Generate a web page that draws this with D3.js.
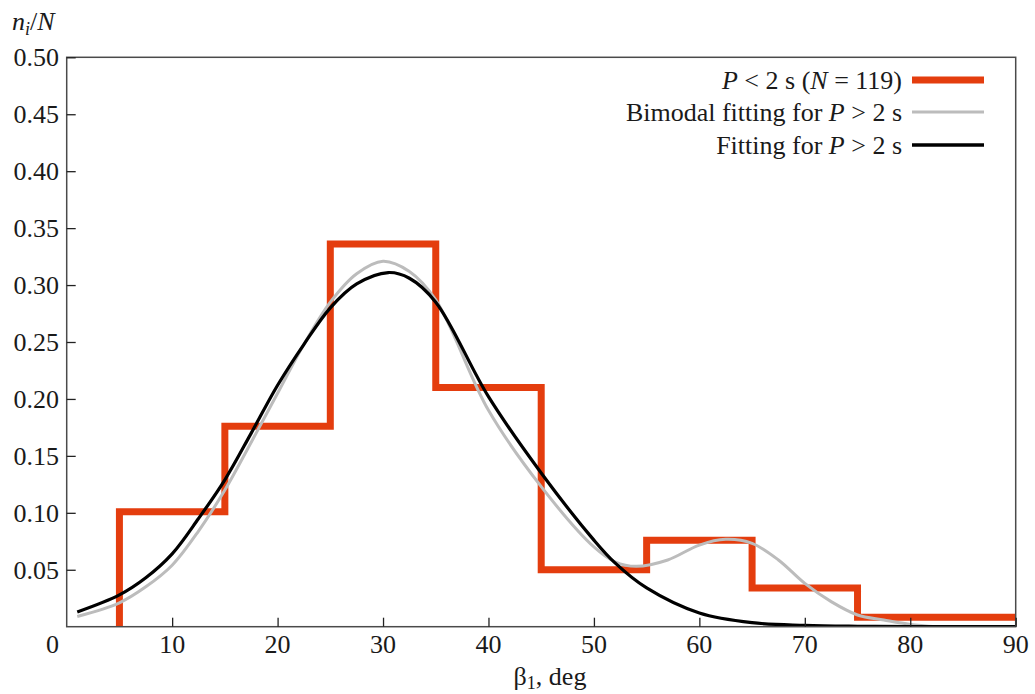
<!DOCTYPE html>
<html>
<head>
<meta charset="utf-8">
<script src="https://cdn.jsdelivr.net/npm/d3@7"></script>
<style>
  body { margin: 0; background: #fff; }
  svg text { font-family: "Liberation Serif", "DejaVu Serif", serif; font-size: 26px; fill: #1a1a1a; }
</style>
</head>
<body>
<svg width="1035" height="694"></svg>
<script>
// histogram P < 2 s
let binEdges = [5, 15, 25, 35, 45, 55, 65, 75, 90];
let histValues = [0.101, 0.176, 0.336, 0.210, 0.050, 0.076, 0.034, 0.0084];

// fitting for P > 2 s (black)
let fitX = [1, 5, 7.5, 10, 12.5, 15, 17.5, 20, 22.5, 25, 27.5, 30.5, 32.5, 35, 40, 45, 50, 52, 55, 60, 65, 70, 75, 80, 90];
let fitY = [0.013, 0.028, 0.043, 0.064, 0.095, 0.129, 0.170, 0.212, 0.248, 0.280, 0.301, 0.311, 0.306, 0.285, 0.202, 0.135, 0.076, 0.056, 0.034, 0.012, 0.0035, 0.0012, 0.0004, 0.0001, 0];

// bimodal fitting for P > 2 s (grey)
let biX = [1, 5, 7.5, 10, 12.5, 15, 17.5, 20, 22.5, 25, 27.5, 30, 32.5, 35, 40, 45, 50, 52, 54, 57, 60, 62.5, 65, 67.5, 70, 72.5, 75, 77.5, 80, 82.5];
let biY = [0.009, 0.021, 0.035, 0.054, 0.084, 0.120, 0.162, 0.205, 0.248, 0.285, 0.310, 0.321, 0.312, 0.287, 0.190, 0.123, 0.070, 0.057, 0.053, 0.0586, 0.0717, 0.0767, 0.0732, 0.0586, 0.038, 0.022, 0.0103, 0.0059, 0.002, 0];

let xTicks = [10, 20, 30, 40, 50, 60, 70, 80, 90];
let yTicks = [0.05, 0.10, 0.15, 0.20, 0.25, 0.30, 0.35, 0.40, 0.45, 0.50];

let s = d3.select("svg");
let pLeft = 66.7, pRight = 1015.7, pTop = 57.3, pBottom = 626.7;

let x = d3.scaleLinear().domain([0, 90]).range([pLeft, pRight]);
let y = d3.scaleLinear().domain([0, 0.5]).range([pBottom, pTop]);

s.append("clipPath").attr("id", "clip")
    .append("rect")
    .attr("x", pLeft).attr("y", pTop)
    .attr("width", pRight - pLeft).attr("height", pBottom - pTop);

// histogram as step line
let steps = [[binEdges[0], 0]];
for (let i = 0; i < histValues.length; i++) {
    steps.push([binEdges[i], histValues[i]]);
    steps.push([binEdges[i + 1], histValues[i]]);
}
let lineXY = d3.line().x(d => x(d[0])).y(d => y(d[1]));

let plot = s.append("g").attr("clip-path", "url(#clip)");

plot.append("path")
    .attr("d", lineXY(steps))
    .attr("fill", "none")
    .attr("stroke", "#e43d0e")
    .attr("stroke-width", 7)
    .attr("stroke-linejoin", "miter");

let smooth = d3.line().x(d => x(d[0])).y(d => y(d[1])).curve(d3.curveCatmullRom.alpha(0.5));

plot.append("path")
    .attr("d", smooth(d3.zip(biX, biY)))
    .attr("fill", "none")
    .attr("stroke", "#bcbcbc")
    .attr("stroke-width", 3);

plot.append("path")
    .attr("d", smooth(d3.zip(fitX, fitY)))
    .attr("fill", "none")
    .attr("stroke", "#000")
    .attr("stroke-width", 3.2);

// frame
s.append("rect")
    .attr("x", pLeft).attr("y", pTop)
    .attr("width", pRight - pLeft).attr("height", pBottom - pTop)
    .attr("fill", "none")
    .attr("stroke", "#4a4a4a")
    .attr("stroke-width", 1.5);

// inward ticks
let xAxis = d3.axisTop(x).tickValues(xTicks).tickSize(9).tickFormat("");
s.append("g").attr("transform", "translate(0," + pBottom + ")").call(xAxis)
    .call(g => g.select(".domain").remove())
    .selectAll("line").attr("stroke", "#222").attr("stroke-width", 1.3);

let yAxis = d3.axisRight(y).tickValues(yTicks).tickSize(9).tickFormat("");
s.append("g").attr("transform", "translate(" + pLeft + ",0)").call(yAxis)
    .call(g => g.select(".domain").remove())
    .selectAll("line").attr("stroke", "#222").attr("stroke-width", 1.3);

// tick labels
s.selectAll(".xl").data(xTicks).enter().append("text")
    .attr("x", d => x(d)).attr("y", 653)
    .attr("text-anchor", "middle")
    .text(d => d);
s.append("text").attr("x", 59).attr("y", 653).attr("text-anchor", "end").text("0");

s.selectAll(".yl").data(yTicks).enter().append("text")
    .attr("x", 59).attr("y", d => y(d) + 9)
    .attr("text-anchor", "end")
    .text(d => d.toFixed(2));

// axis titles
let yt = s.append("text").attr("x", 12).attr("y", 30);
yt.append("tspan").attr("font-style", "italic").text("n");
yt.append("tspan").attr("font-style", "italic").attr("font-size", "18px").attr("dy", 5).text("i");
yt.append("tspan").attr("dy", -5).text("/");
yt.append("tspan").attr("font-style", "italic").text("N");

let xt = s.append("text").attr("x", 550).attr("y", 685).attr("text-anchor", "middle");
xt.append("tspan").text("β");
xt.append("tspan").attr("font-size", "18px").attr("dy", 4).text("1");
xt.append("tspan").attr("dy", -4).text(", deg");

// legend
let legendRows = [
    { parts: [["P", true], [" < 2 s (", false], ["N", true], [" = 119)", false]], color: "#e43d0e", w: 7, yy: 80 },
    { parts: [["Bimodal fitting for ", false], ["P", true], [" > 2 s", false]], color: "#bcbcbc", w: 3, yy: 112 },
    { parts: [["Fitting for ", false], ["P", true], [" > 2 s", false]], color: "#000", w: 3.5, yy: 145 }
];
legendRows.forEach(r => {
    let t = s.append("text").attr("x", 902).attr("y", r.yy + 9).attr("text-anchor", "end");
    r.parts.forEach(p => {
        t.append("tspan").attr("font-style", p[1] ? "italic" : null).text(p[0]);
    });
    s.append("line")
        .attr("x1", 912).attr("x2", 984)
        .attr("y1", r.yy).attr("y2", r.yy)
        .attr("stroke", r.color)
        .attr("stroke-width", r.w);
});
</script>
</body>
</html>
